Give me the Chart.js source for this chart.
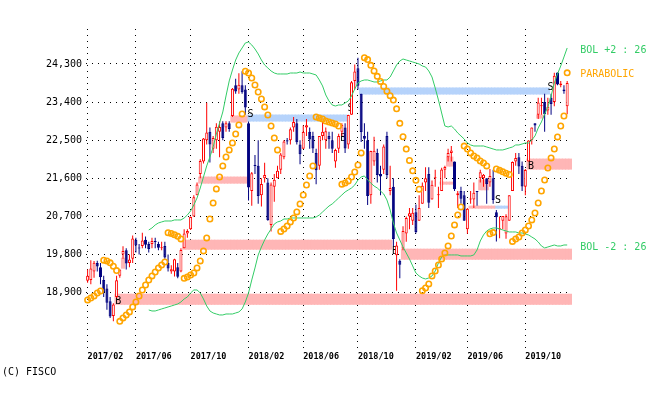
<!DOCTYPE html>
<html>
<head>
<meta charset="utf-8">
<script src="https://cdn.jsdelivr.net/npm/chart.js@4.4.1/dist/chart.umd.min.js"></script>
<style>
  html, body { margin: 0; padding: 0; background: #fff; }
</style>
</head>
<body>
<canvas id="chart" width="670" height="394"></canvas>
<script>
// weekly candles, Feb 2017 .. Jan 2020 (one extra empty slot at the right)
const weekCount = 151;
const tickIdx = [0, 15, 32, 50, 67, 84, 102, 118, 136];
const tickLabels = ['2017/02', '2017/06', '2017/10', '2018/02', '2018/06', '2018/10', '2019/02', '2019/06', '2019/10'];
const yTicks = [18900, 19800, 20700, 21600, 22500, 23400, 24300];

const open = [
  19180, 19200, 19400, 19600, 19500, 19200, 19000, 18700, 18350, 18800,
  19300, 19800, 19900, 19600, 19700, 20150, 19950, 20000, 20150, 20050,
  20050, 20100, 20050, 19950, 20000, 19600, 19400, 19400, 19500, 19400,
  19950, 20300, 20400, 20700, 21200, 21700, 22000, 22500, 22700, 22300,
  22500, 22700, 22900, 22800, 22900, 23073, 23800, 23700, 23800, 23700,
  22900, 21300, 21900, 21900, 21200, 21600, 21500, 20500, 21400, 21600,
  21800, 22100, 22500, 22500, 22800, 22900, 22400, 22300, 22800, 22700,
  22600, 22200, 21900, 22600, 22500, 22600, 22500, 22000, 22300, 22700,
  22800, 22400, 23100, 23900, 24200, 23600, 22600, 22500, 21200, 22000,
  22200, 21700, 21800, 22600, 21300, 21400, 19785, 19655, 19944, 20300,
  20700, 20600, 20800, 20600, 21000, 21500, 21700, 21100, 21600, 21200,
  21300, 21800, 22100, 22200, 22000, 21200, 21300, 21200, 20400, 21100,
  21100, 21300, 21600, 21600, 21600, 21500, 21600, 20800, 20400, 20600,
  20300, 20600, 21300, 22000, 22100, 21900, 21400, 22000, 22500, 22900,
  23100, 23300, 23400, 23200, 23500, 23400, 24100, 23800, 23700, 23300
];
const high = [
  19449, 19668, 19650, 19656, 19600, 19300, 19100, 18800, 18650, 19300,
  19450, 19999, 19950, 19800, 20250, 20200, 20050, 20318, 20225, 20100,
  20200, 20200, 20100, 20100, 20100, 19800, 19550, 19700, 19600, 19950,
  20400, 20400, 20700, 21200, 21500, 22050, 22550, 23382, 22800, 22600,
  22900, 22950, 22950, 22950, 22950, 23730, 23950, 24084, 24129, 23800,
  22940, 21750, 22150, 22500, 21600, 21970, 21600, 21500, 21700, 21900,
  22200, 22500, 22550, 22800, 23050, 23000, 22500, 22850, 23000, 22800,
  22700, 22300, 22600, 22950, 22800, 22700, 22700, 22300, 22650, 22900,
  22900, 23100, 23900, 24286, 24448, 23600, 22900, 22700, 22250, 22583,
  22300, 21900, 22400, 22698, 21900, 21600, 20100, 19692, 20470, 20700,
  20900, 20900, 20980, 21200, 21500, 21860, 21860, 21550, 21800, 21400,
  21850, 21900, 22300, 22362, 22000, 21300, 21400, 21300, 20900, 21300,
  21500, 21300, 21800, 21700, 21600, 21823, 21800, 20850, 20700, 20700,
  20750, 21200, 22000, 22200, 22200, 22000, 21818, 22500, 22800, 22900,
  23500, 23500, 23600, 23500, 23600, 24091, 24100, 23900, 23800, 23900
];
const low = [
  19136, 19100, 19250, 19400, 19100, 18800, 18500, 18300, 18224, 18780,
  19250, 19700, 19450, 19500, 19600, 19850, 19800, 19950, 19950, 19850,
  19950, 19950, 19900, 19900, 19700, 19400, 19350, 19280, 19239, 19380,
  19950, 20200, 20380, 20700, 21200, 21600, 21950, 22400, 21972, 22200,
  22300, 22100, 22500, 22700, 22700, 23050, 23600, 23600, 23600, 23100,
  21078, 20950, 21700, 21000, 20937, 21500, 20600, 20347, 21050, 21600,
  21700, 22050, 22400, 22400, 22700, 22400, 21931, 22300, 22600, 22300,
  22200, 21462, 21800, 22500, 22300, 22300, 22200, 21851, 22200, 22600,
  22200, 22300, 23100, 23700, 23700, 22459, 22300, 20971, 21000, 21900,
  21500, 21200, 21700, 21600, 21200, 20000, 18948, 19241, 19900, 20100,
  20400, 20500, 20300, 20600, 21000, 21300, 20900, 21100, 21400, 20900,
  21300, 21600, 22000, 22000, 21300, 20900, 21000, 20600, 20289, 21000,
  20900, 20950, 21500, 21400, 21000, 21400, 21000, 20110, 20184, 20400,
  20173, 20600, 21300, 21900, 21700, 21300, 21200, 22000, 22400, 22700,
  23000, 23100, 22700, 23100, 23100, 23300, 23800, 23750, 23600, 23115
];
const close = [
  19302, 19469, 19604, 19521, 19262, 18909, 18665, 18335, 18620, 19196,
  19445, 19883, 19590, 19686, 20177, 20013, 19943, 20132, 20033, 19929,
  20118, 20099, 19959, 19952, 19729, 19470, 19452, 19691, 19274, 19909,
  20296, 20356, 20690, 21155, 21457, 22008, 22539, 22681, 22397, 22550,
  22819, 22811, 22553, 22902, 22765, 23714, 23653, 23808, 23631, 23274,
  21383, 21720, 21892, 21182, 21469, 21676, 20617, 21454, 21568, 21778,
  22162, 22467, 22472, 22758, 22930, 22450, 22171, 22694, 22851, 22516,
  22304, 21788, 22597, 22697, 22712, 22525, 22298, 22270, 22601, 22865,
  22307, 23094, 23869, 24120, 23784, 22694, 22532, 21184, 22243, 22250,
  21680, 21646, 22351, 21679, 21374, 20166, 20014, 19561, 20359, 20666,
  20773, 20788, 20333, 20900, 21425, 21602, 21025, 21450, 21627, 21205,
  21807, 21870, 22200, 22258, 21344, 21250, 21117, 20601, 20884, 21116,
  21258, 21276, 21746, 21685, 21466, 21658, 21087, 20684, 20418, 20711,
  20704, 21199, 21988, 22079, 21878, 21410, 21798, 22492, 22799, 22850,
  23391, 23303, 23112, 23293, 23354, 24023, 23816, 23837, 23656, 23850
];

// Bollinger bands (26 weeks, +/-2 sigma)
const bolUp = [
  null, null, null, null, null, null, null, null, null, null,
  null, null, null, null, null, null, null, null, null, 20381,
  20428, 20499, 20546, 20570, 20593, 20593, 20593, 20617, 20617, 20617,
  20664, 20735, 20829, 20971, 21136, 21372, 21632, 21892, 22104, 22340,
  22647, 22907, 23167, 23545, 23899, 24158, 24394, 24560, 24678, 24796,
  24819, 24749, 24654, 24536, 24394, 24276, 24206, 24135, 24087, 24064,
  24064, 24064, 24064, 24087, 24087, 24087, 24111, 24087, 24087, 24087,
  24064, 24040, 23922, 23781, 23568, 23426, 23332, 23308, 23332, 23332,
  23379, 23426, 23545, 23710, 23852, 23899, 23922, 23922, 23899, 23875,
  23875, 23899, 23922, 23922, 23993, 24135, 24276, 24371, 24418, 24394,
  24371, 24347, 24324, 24300, 24253, 24229, 24135, 23993, 23733, 23450,
  23143, 22836, 22812, 22836, 22765, 22671, 22600, 22529, 22435, 22388,
  22364, 22364, 22364, 22364, 22340, 22317, 22293, 22270, 22270, 22270,
  22293, 22317, 22340, 22388, 22388, 22411, 22435, 22435, 22506, 22600,
  22789, 22931, 23120, 23285, 23545, 23852, 24064, 24253, 24465, 24678
];
const bolDn = [
  null, null, null, null, null, null, null, null, null, null,
  null, null, null, null, null, null, null, null, null, 18492,
  18468, 18468, 18492, 18516, 18539, 18563, 18586, 18610, 18634, 18681,
  18752, 18799, 18893, 18964, 18964, 18893, 18752, 18586, 18468, 18421,
  18397, 18374, 18374, 18397, 18397, 18397, 18421, 18445, 18516, 18681,
  18893, 19200, 19484, 19791, 19979, 20145, 20286, 20404, 20522, 20570,
  20593, 20640, 20640, 20664, 20664, 20664, 20664, 20664, 20664, 20664,
  20664, 20688, 20735, 20806, 20877, 20947, 20995, 21065, 21136, 21207,
  21278, 21325, 21372, 21443, 21561, 21632, 21656, 21561, 21490, 21419,
  21372, 21301, 21230, 21089, 20853, 20546, 20310, 20145, 19979, 19838,
  19696, 19531, 19365, 19295, 19247, 19224, 19247, 19295, 19413, 19602,
  19743, 19791, 19791, 19791, 19791, 19791, 19767, 19767, 19767, 19767,
  19791, 19909, 20121, 20263, 20357, 20404, 20428, 20428, 20404, 20381,
  20357, 20334, 20334, 20334, 20310, 20310, 20286, 20263, 20215, 20168,
  20097, 20003, 19956, 19979, 20003, 20026, 20003, 20003, 20026, 20026
];
// parabolic SAR
const sar = [
  18728, 18775, 18822, 18893, 18940, 19668, 19651, 19605, 19527, 19423,
  18224, 18303, 18374, 18445, 18563, 18681, 18822, 18964, 19082, 19200,
  19295, 19389, 19484, 19554, 19625, 20318, 20300, 20270, 20230, 20170,
  19239, 19271, 19318, 19365, 19484, 19649, 19885, 20192, 20640, 21018,
  21349, 21632, 21892, 22104, 22270, 22435, 22647, 22860, 23120, 24129,
  24087, 23969, 23804, 23639, 23474, 23285, 23096, 22836, 22553, 22270,
  20347, 20404, 20475, 20570, 20664, 20806, 20995, 21207, 21443, 21656,
  21892, 23050, 23025, 23001, 22954, 22930, 22907, 22883, 22836, 21462,
  21490, 21538, 21632, 21750, 21915, 22199, 24448, 24405, 24268, 24136,
  24009, 23887, 23770, 23658, 23551, 23448, 23241, 22898, 22582, 22291,
  22024, 21778, 21552, 21344, 18948, 19011, 19106, 19295, 19413, 19554,
  19696, 19838, 20003, 20239, 20499, 20735, 20924, 22362, 22293, 22199,
  22128, 22081, 22010, 21963, 21892, 20289, 20319, 21823, 21789, 21755,
  21722, 21690, 20110, 20168, 20215, 20310, 20381, 20475, 20617, 20782,
  21018, 21301, 21561, 21844, 22081, 22293, 22577, 22836, 23072, 24091
];

// price windows (gaps): first week, last week, low, high, direction
const gapFrom = [9, 11, 30, 35, 45, 50, 85, 98, 110, 112, 119, 122, 127, 137, 140];
const gapTo   = [150, 11, 94, 49, 49, 80, 143, 150, 113, 113, 126, 124, 130, 150, 141];
const gapLo   = [18626, 19478, 19927, 21487, 22929, 22953, 23591, 19690, 21463, 21889, 20896, 21330, 20896, 21818, 23023];
const gapHi   = [18863, 19714, 20139, 21629, 23071, 23094, 23733, 19927, 21510, 22101, 20943, 21560, 20943, 22054, 23094];
const gapDir  = ['up', 'up', 'up', 'up', 'up', 'down', 'down', 'up', 'up', 'up', 'up', 'up', 'down', 'up', 'up'];

// buy / sell marks
const sigIdx  = [9.5, 50.6, 79.4, 81.7, 95.5, 127.5, 137.8, 143.8];
const sigVal  = [18700, 23106, 22551, 23260, 19868, 21073, 21889, 23756];
const sigText = ['B', 'S', 'B', 'S', 'B', 'S', 'B', 'S'];

const RED = '#ff0000', NAVY = '#000080', GREEN = '#33cc66', ORANGE = '#ffa500';
const PINK = '#ffb6b6', BLUE = '#b6d3fb';
const MONO = '"DejaVu Sans Mono", "Liberation Mono", monospace';

const labels = [];
for (let i = 0; i < weekCount; i++) labels.push(i);

const isUp = close.map((c, i) => c >= open[i]);

const gapSets = gapFrom.map((from, g) => {
  const data = new Array(weekCount).fill(null);
  for (let i = from; i <= gapTo[g]; i++) data[i] = [gapLo[g], gapHi[g]];
  return {
    label: 'gap' + g,
    data: data,
    backgroundColor: gapDir[g] === 'up' ? PINK : BLUE,
    borderWidth: 0,
    barPercentage: 1,
    categoryPercentage: 1,
    grouped: false,
    inflateAmount: 0.5,
    order: 4
  };
});

const textPlugin = {
  id: 'texts',
  beforeDatasetDraw(chart, args) {
    if (chart.data.datasets[args.index].label !== 'wick') return;
    const {ctx, scales: {x, y}} = chart;
    ctx.save();
    ctx.font = '10px ' + MONO;
    ctx.fillStyle = '#000';
    ctx.textAlign = 'center';
    ctx.textBaseline = 'middle';
    sigText.forEach((t, i) => {
      ctx.fillText(t, x.getPixelForValue(sigIdx[i]), y.getPixelForValue(sigVal[i]));
    });
    ctx.restore();
  },
  afterDraw(chart) {
    const ctx = chart.ctx;
    ctx.save();
    ctx.font = '10px ' + MONO;
    ctx.textAlign = 'left';
    ctx.textBaseline = 'middle';
    const tags = [['bolUp', 'BOL +2 : 26', GREEN], ['sar', 'PARABOLIC', ORANGE], ['bolDn', 'BOL -2 : 26', GREEN]];
    tags.forEach(([name, text, color]) => {
      const i = chart.data.datasets.findIndex(d => d.label === name);
      const pts = chart.getDatasetMeta(i).data;
      const p = pts[pts.length - 1];
      ctx.fillStyle = color;
      ctx.fillText(text, p.x + 13, p.y + 2);
    });
    ctx.fillStyle = '#000';
    ctx.fillText('(C) FISCO', 2, 372);
    ctx.restore();
  }
};

new Chart(document.getElementById('chart'), {
  type: 'bar',
  data: {
    labels: labels,
    datasets: [
      {
        type: 'line', label: 'sar', data: sar,
        showLine: false, pointRadius: 2.7, pointBorderWidth: 1.6,
        pointBorderColor: ORANGE, pointBackgroundColor: 'rgba(255,255,255,0)',
        order: 0
      },
      {
        type: 'line', label: 'bolUp', data: bolUp,
        borderColor: GREEN, borderWidth: 1, pointRadius: 0, tension: 0,
        order: 1
      },
      {
        type: 'line', label: 'bolDn', data: bolDn,
        borderColor: GREEN, borderWidth: 1, pointRadius: 0, tension: 0,
        order: 1
      },
      {
        label: 'body',
        data: open.map((o, i) => [o, close[i]]),
        backgroundColor: isUp.map(u => u ? '#ffffff' : NAVY),
        borderColor: isUp.map(u => u ? RED : NAVY),
        borderWidth: 1,
        borderSkipped: false,
        barThickness: 3,
        minBarLength: 1,
        grouped: false,
        inflateAmount: 0,
        order: 2
      },
      {
        label: 'wick',
        data: low.map((l, i) => [l, high[i]]),
        backgroundColor: isUp.map(u => u ? RED : NAVY),
        borderWidth: 0,
        barThickness: 1,
        grouped: false,
        inflateAmount: 0,
        order: 3
      },
      ...gapSets
    ]
  },
  options: {
    responsive: false,
    animation: false,
    events: [],
    layout: { padding: { top: 29, right: 98, bottom: 0, left: 0 } },
    plugins: { legend: { display: false }, tooltip: { enabled: false } },
    scales: {
      x: {
        type: 'category',
        offset: true,
        afterFit(s) { s.height = 46; },
        grid: {
          offset: false,
          drawTicks: false,
          lineWidth: 1,
          color: ctx => tickIdx.includes(ctx.index) ? '#000' : 'rgba(0,0,0,0)'
        },
        border: { display: false, dash: [1, 5] },
        ticks: {
          autoSkip: false, maxRotation: 0, minRotation: 0,
          align: 'start', padding: 4, color: '#000',
          font: { family: MONO, size: 8.5, weight: 'bold' },
          callback: (v, i) => {
            const k = tickIdx.indexOf(i);
            return k >= 0 ? tickLabels[k] : '';
          }
        }
      },
      y: {
        min: 17594,
        max: 25126,
        afterFit(s) { s.width = 86; },
        afterBuildTicks(s) { s.ticks = yTicks.map(v => ({ value: v })); },
        grid: { drawTicks: false, lineWidth: 1, color: '#000' },
        border: { display: false, dash: [1, 5] },
        ticks: {
          padding: 4, color: '#000',
          font: { family: MONO, size: 10 },
          callback: v => v.toLocaleString('en-US')
        }
      }
    }
  },
  plugins: [textPlugin]
});
</script>
</body>
</html>
